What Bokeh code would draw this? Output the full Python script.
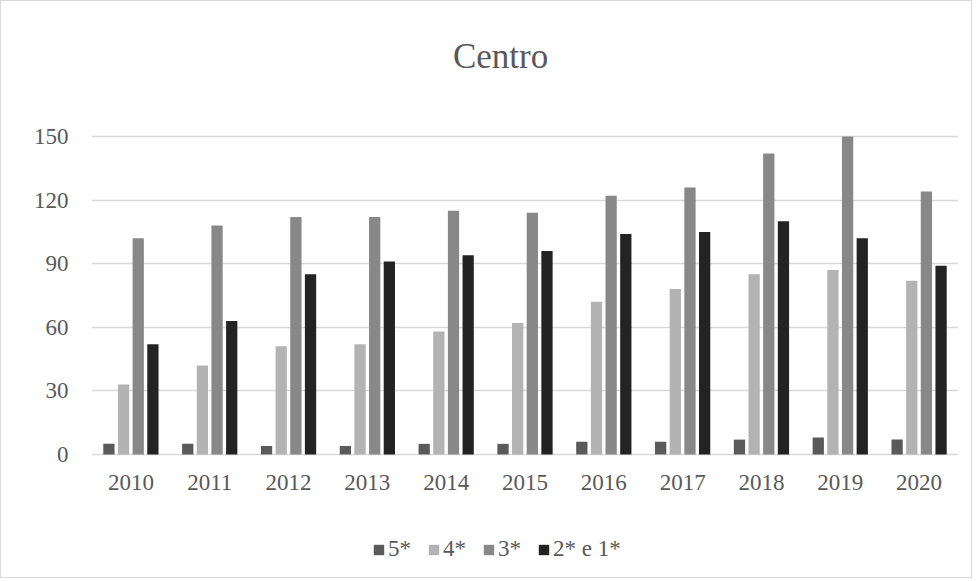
from bokeh.plotting import figure
from bokeh.models import ColumnDataSource, FactorRange, Range1d, Legend, LegendItem, FixedTicker, Label
from bokeh.transform import dodge
from bokeh.embed import file_html
from bokeh.resources import INLINE

years = ["2010", "2011", "2012", "2013", "2014", "2015", "2016", "2017", "2018", "2019", "2020"]
s5 = [5, 5, 4, 4, 5, 5, 6, 6, 7, 8, 7]
s4 = [33, 42, 51, 52, 58, 62, 72, 78, 85, 87, 82]
s3 = [102, 108, 112, 112, 115, 114, 122, 126, 142, 150, 124]
s21 = [52, 63, 85, 91, 94, 96, 104, 105, 110, 102, 89]
y_ticks = [0, 30, 60, 90, 120, 150]
names = ["5*", "4*", "3*", "2* e 1*"]
cols = ["s5", "s4", "s3", "s21"]
colors = ["#5a5a5a", "#b3b3b3", "#888888", "#232323"]

source = ColumnDataSource(data=dict(year=years, s5=s5, s4=s4, s3=s3, s21=s21))

FONT = "Liberation Serif"
GREY = "#595959"

# frame fills the whole height so title and legend can sit inside it
p = figure(x_range=FactorRange(*years, range_padding=0), y_range=Range1d(-59, 213.7),
           width=972, height=578, output_backend="svg", toolbar_location=None,
           min_border_left=90, min_border_right=15, min_border_top=0, min_border_bottom=0)
p.styles = {"border": "1px solid #d9d9d9"}
p.outline_line_color = None
p.title.visible = False

p.add_layout(Label(x=5.19, y=187.7, text="Centro", text_font=FONT, text_font_size="35px",
                   text_color=GREY, text_align="center", text_baseline="middle"))

offsets = [-0.279, -0.093, 0.093, 0.279]
items = []
for col, name, color, off in zip(cols, names, colors, offsets):
    r = p.vbar(x=dodge("year", off, range=p.x_range), top=col, width=0.143,
               source=source, fill_color=color, line_color=None)
    items.append(LegendItem(label=name, renderers=[r]))

p.yaxis.ticker = FixedTicker(ticks=y_ticks)
p.ygrid.ticker = FixedTicker(ticks=y_ticks)
p.xaxis.fixed_location = 0
for ax in (p.xaxis, p.yaxis):
    ax.axis_line_color = None
    ax.major_tick_line_color = None
    ax.minor_tick_line_color = None
    ax.major_label_text_font = FONT
    ax.major_label_text_font_size = "23px"
    ax.major_label_text_color = GREY
p.xaxis.major_label_standoff = 15
p.yaxis.major_label_standoff = 17

p.xgrid.grid_line_color = None
p.ygrid.grid_line_color = "#d9d9d9"
p.ygrid.grid_line_width = 1.5

legend = Legend(items=items, orientation="horizontal", location=(281, 17),
                border_line_color=None, background_fill_alpha=0, margin=0,
                label_text_font=FONT, label_text_font_size="23px", label_text_color=GREY,
                glyph_width=13, glyph_height=13, label_standoff=3, spacing=16, padding=5)
p.add_layout(legend, "center")

open("out.html", "w").write(file_html(p, INLINE))
